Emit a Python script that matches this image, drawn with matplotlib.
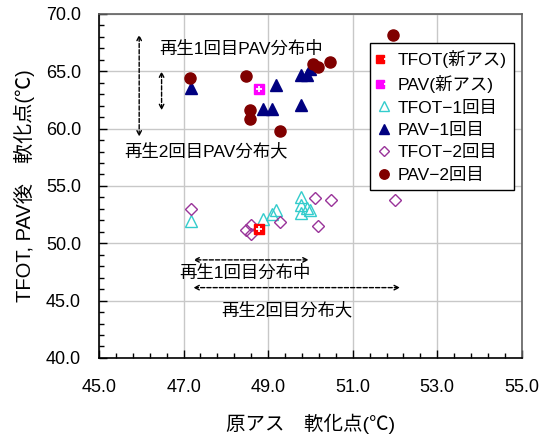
import matplotlib
matplotlib.use("Agg")
import matplotlib.pyplot as plt
from matplotlib.ticker import MultipleLocator, FormatStrFormatter
from matplotlib.legend_handler import HandlerTuple

plt.rcParams['font.family'] = ['Liberation Sans', 'Noto Sans CJK JP', 'DejaVu Sans']

# ---- data ----
tfot_new_x = [48.79]
tfot_new_y = [51.25]
pav_new_x = [48.78]
pav_new_y = [63.43]
tfot1_x = [47.18, 48.88, 49.10, 49.19, 49.78, 49.78, 49.78, 49.91, 49.99]
tfot1_y = [51.95, 52.10, 52.56, 52.90, 54.07, 53.35, 52.60, 53.05, 52.90]
pav1_x = [47.18, 49.19, 48.88, 49.10, 49.77, 49.77, 49.91, 49.99]
pav1_y = [63.52, 63.80, 61.70, 61.70, 62.04, 64.65, 64.65, 65.20]
tfot2_x = [47.18, 48.47, 48.59, 48.59, 49.29, 50.10, 50.48, 50.19, 52.00]
tfot2_y = [53.00, 51.20, 51.60, 50.85, 51.84, 53.98, 53.78, 51.49, 53.78]
pav2_x = [51.96, 47.15, 48.47, 50.07, 50.18, 50.46, 48.58, 48.58, 49.27]
pav2_y = [68.17, 64.45, 64.60, 65.61, 65.40, 65.81, 61.60, 60.80, 59.80]

labels = ['TFOT(新アス)', 'PAV(新アス)', 'TFOT−1回目', 'PAV−1回目', 'TFOT−2回目', 'PAV−2回目']
x_ticks = [45, 47, 49, 51, 53, 55]
y_ticks = [40, 45, 50, 55, 60, 65, 70]

fig = plt.figure(figsize=(5.47, 4.37), dpi=100)
ax = fig.add_axes([0.181, 0.181, 0.773, 0.787])

ax.set_xlim(45, 55)
ax.set_ylim(40, 70)
ax.set_xticks(x_ticks)
ax.set_yticks(y_ticks)
ax.xaxis.set_minor_locator(MultipleLocator(0.4, offset=0.2))
ax.yaxis.set_minor_locator(MultipleLocator(1))
ax.xaxis.set_major_formatter(FormatStrFormatter('%.1f'))
ax.yaxis.set_major_formatter(FormatStrFormatter('%.1f'))
ax.tick_params(which='major', direction='in', length=6, width=1, labelsize=13)
ax.tick_params(axis='x', which='major', pad=15)
ax.tick_params(axis='y', which='major', pad=13)
ax.tick_params(which='minor', direction='in', length=3.5, width=1)
ax.grid(True, which='major', color='#c8c8c8', linewidth=1)
ax.set_axisbelow(True)
for s in ['left', 'bottom']:
    ax.spines[s].set_color('black')
    ax.spines[s].set_linewidth(1.2)
for s in ['top', 'right']:
    ax.spines[s].set_color('#606060')
    ax.spines[s].set_linewidth(1.2)

# series
h1a, = ax.plot(tfot_new_x, tfot_new_y, 's', ms=7, mfc='#ff0000', mec='#ff0000', ls='none', zorder=4)
h1b, = ax.plot(tfot_new_x, tfot_new_y, '+', ms=5, mec='white', mew=1.3, ls='none', zorder=5)
h2a, = ax.plot(pav_new_x, pav_new_y, 's', ms=7, mfc='#ff00ff', mec='#ff00ff', ls='none', zorder=4)
h2b, = ax.plot(pav_new_x, pav_new_y, '+', ms=5, mec='white', mew=1.3, ls='none', zorder=5)
h3, = ax.plot(tfot1_x, tfot1_y, '^', ms=8.5, mfc='none', mec='#33cccc', mew=1, ls='none', zorder=3)
h4, = ax.plot(pav1_x, pav1_y, '^', ms=8.5, mfc='#000080', mec='#000080', ls='none', zorder=3)
h5, = ax.plot(tfot2_x, tfot2_y, 'D', ms=6.5, mfc='none', mec='#993399', mew=1, ls='none', zorder=3)
h6, = ax.plot(pav2_x, pav2_y, 'o', ms=8, mfc='#800000', mec='#800000', ls='none', zorder=3)

leg = ax.legend([(h1a, h1b), (h2a, h2b), h3, h4, h5, h6], labels,
                handler_map={tuple: HandlerTuple(ndivide=None, pad=0)},
                loc='upper left', bbox_to_anchor=(0.641, 0.916), borderaxespad=0,
                fontsize=12.5, frameon=True, fancybox=False, framealpha=1,
                edgecolor='black', handlelength=0.8, handletextpad=0.4,
                labelspacing=0.42, borderpad=0.4, markerscale=0.85)
leg.get_frame().set_linewidth(1)

# annotation arrows
aprops = dict(arrowstyle='<->', linestyle=(0, (3, 1.5)), color='black', lw=1,
              shrinkA=0, shrinkB=0, mutation_scale=8)
ax.annotate('', xy=(45.95, 68.2), xytext=(45.95, 59.3), arrowprops=aprops)
ax.annotate('', xy=(46.48, 65.0), xytext=(46.48, 61.6), arrowprops=aprops)
ax.annotate('', xy=(47.23, 48.55), xytext=(49.96, 48.55), arrowprops=aprops)
ax.annotate('', xy=(47.23, 46.13), xytext=(52.12, 46.13), arrowprops=aprops)

ax.text(48.36, 67.0, '再生1回目PAV分布中', ha='center', va='center', fontsize=12.5)
ax.text(47.53, 58.0, '再生2回目PAV分布大', ha='center', va='center', fontsize=12.5)
ax.text(48.44, 47.4, '再生1回目分布中', ha='center', va='center', fontsize=12.5)
ax.text(49.44, 44.2, '再生2回目分布大', ha='center', va='center', fontsize=12.5)

ax.set_xlabel('原アス　軟化点(℃)', fontsize=14, labelpad=13)
ax.set_ylabel('TFOT, PAV後　軟化点(℃)', fontsize=14.5, labelpad=8)

fig.savefig('out.png', dpi=100)
